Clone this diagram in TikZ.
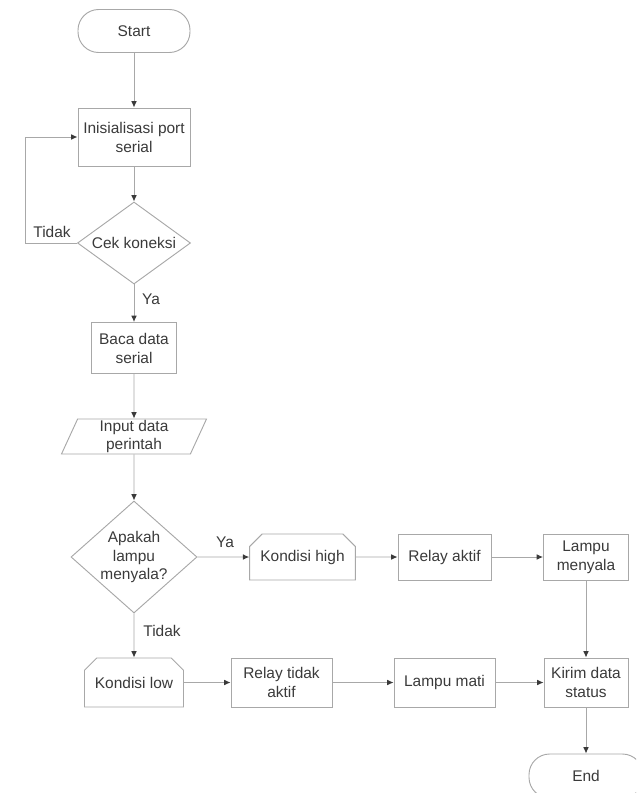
\documentclass[tikz,border=0pt]{standalone}
\usepackage{fontspec}
\setmainfont{Liberation Sans}
\usetikzlibrary{arrows.meta,shapes.geometric,shapes.misc}
\definecolor{ink}{HTML}{3A3A3A}
\definecolor{edge}{HTML}{A8A8A8}

\begin{document}
\begin{tikzpicture}[
    x=0.03cm, y=-0.03cm, line width=0.8pt, color=edge,
    >={Latex[length=1.9mm,width=1.7mm,color=ink]},
    box/.style={draw=edge, text=ink, align=center, inner sep=2pt,
      font=\fontsize{13.2}{16.2}\selectfont},
    terminal/.style={box, rectangle, rounded corners=0.62cm},
    process/.style={box, rectangle},
    decision/.style={box, diamond, inner sep=0pt},
    io/.style={box, trapezium, trapezium left angle=65, trapezium right angle=115,
      trapezium stretches body, inner ysep=0.5pt},
    prep/.style={box, chamfered rectangle, chamfered rectangle corners={north west,north east},
      chamfered rectangle xsep=0.25cm},
    lab/.style={text=ink, font=\fontsize{13.2}{16.2}\selectfont}]
  % fixed 636 x 793 px canvas
  \useasboundingbox (0,0) rectangle (636,793);
  \clip (0,0) rectangle (636,793);

  % ================= main column =================
  \node[terminal, minimum width=3.36cm, minimum height=1.29cm] (start) at (134,31) {Start};
  \node[process, minimum width=3.36cm, minimum height=1.74cm] (init) at (134,137) {Inisialisasi port\\serial};
  \node[decision, aspect=1.38, minimum width=3.39cm, minimum height=2.46cm] (cek) at (134,243) {Cek koneksi};
  \node[process, minimum width=2.55cm, minimum height=1.53cm] (baca) at (134,348) {Baca data\\serial};
  \node[io, minimum width=4.35cm, minimum height=1.05cm] (input) at (134,436.5) {Input data\\perintah};
  \node[decision, aspect=1.125, minimum width=3.78cm, minimum height=3.36cm] (apakah) at (134,557) {Apakah\\lampu\\menyala?};

  % ================= upper row: lamp on =================
  \node[prep, minimum width=2.97cm, minimum height=1.38cm] (khigh) at (302.5,557) {Kondisi high};
  \node[process, minimum width=2.79cm, minimum height=1.38cm] (raktif) at (444.5,557) {Relay aktif};
  \node[process, minimum width=2.55cm, minimum height=1.38cm] (lnyala) at (586,557) {Lampu\\menyala};

  % ================= lower row: lamp off =================
  \node[prep, minimum width=2.94cm, minimum height=1.47cm] (klow) at (134,682.5) {Kondisi low};
  \node[process, minimum width=3.03cm, minimum height=1.47cm] (rtidak) at (281.5,682.5) {Relay tidak\\aktif};
  \node[process, minimum width=3.03cm, minimum height=1.47cm] (lmati) at (444.5,682.5) {Lampu mati};
  \node[process, minimum width=2.52cm, minimum height=1.47cm] (kirim) at (586,682.5) {Kirim data\\status};
  \node[terminal, minimum width=3.42cm, minimum height=1.32cm] (end) at (586,776) {End};

  % ================= connectors =================
  \coordinate (loop) at (25,243);
  \draw[->] (start) -- (init);
  \draw[->] (init) -- (cek);
  \draw[->] (cek) -- (baca);
  \draw[->] (cek.west) -- (loop) |- (init.west);
  \draw[->] (baca) -- (input);
  \draw[->] (input) -- (apakah);
  \draw[->] (apakah) -- (khigh);
  \draw[->] (khigh) -- (raktif);
  \draw[->] (raktif) -- (lnyala);
  \draw[->] (lnyala) -- (kirim);
  \draw[->] (apakah) -- (klow);
  \draw[->] (klow) -- (rtidak);
  \draw[->] (rtidak) -- (lmati);
  \draw[->] (lmati) -- (kirim);
  \draw[->] (kirim) -- (end);

  % branch labels
  \node[lab] (tidakA) at (52,232) {Tidak};
  \node[lab] (yaA) at (151,299) {Ya};
  \node[lab] (yaB) at (225,542) {Ya};
  \node[lab] (tidakB) at (162,631) {Tidak};
\end{tikzpicture}
\end{document}
